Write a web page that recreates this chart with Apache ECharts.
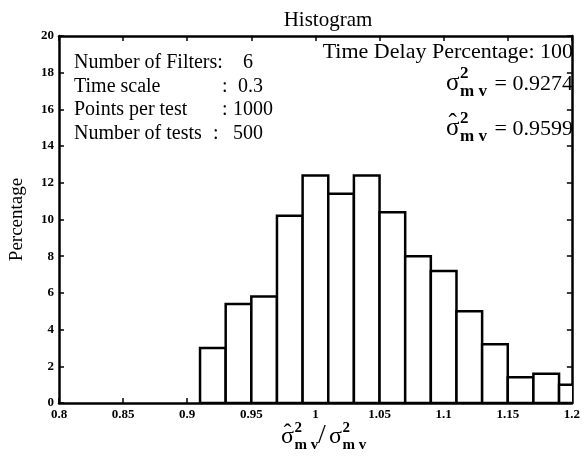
<!DOCTYPE html>
<html><head><meta charset="utf-8">
<script src="https://cdn.jsdelivr.net/npm/echarts@6/dist/echarts.min.js"></script>
<style>html,body{margin:0;padding:0;background:#fff}#c{width:583px;height:458px}</style>
</head><body><div id="c"></div>
<script>
// ---- data ----
const binLeft  = [0.91, 0.93, 0.95, 0.97, 0.99, 1.01, 1.03, 1.05, 1.07, 1.09, 1.11, 1.13, 1.15, 1.17, 1.19];
const binRight = [0.93, 0.95, 0.97, 0.99, 1.01, 1.03, 1.05, 1.07, 1.09, 1.11, 1.13, 1.15, 1.17, 1.19, 1.21];
const percentage = [3.0, 5.4, 5.8, 10.2, 12.4, 11.4, 12.4, 10.4, 8.0, 7.2, 5.0, 3.2, 1.4, 1.6, 1.0];
const xRange = [0.8, 1.2];
const xStep = 0.05;
const yRange = [0, 20];
const yStep = 2;
const infoLabels = ['Number of Filters:', 'Time scale', 'Points per test', 'Number of tests'];
const infoValues = ['6', '0.3', '1000', '500'];
const infoRight = 'Time Delay Percentage: 100';
const sigmaMv = '0.9274';
const sigmaHatMv = '0.9599';

const SERIF = '"Liberation Serif", "DejaVu Serif", serif';
const chart = echarts.init(document.getElementById('c'), null, {renderer: 'canvas'});

function sigmaParts(x, y, hat, fs, subScale) {
  const ss = subScale || 0.62;
  const els = [];
  els.push({type: 'text', x: x, y: y, style: {text: 'σ', font: fs + 'px ' + SERIF, fill: '#000', textAlign: 'left', textVerticalAlign: 'middle'}});
  if (hat) {
    els.push({type: 'text', x: x + fs * 0.27, y: y - fs * 0.14, style: {text: 'ˆ', font: fs + 'px ' + SERIF, fill: '#000', textAlign: 'center', textVerticalAlign: 'middle'}});
  }
  els.push({type: 'text', x: x + fs * 0.56, y: y - fs * 0.36, style: {text: '2', font: 'bold ' + Math.round(fs * ss) + 'px ' + SERIF, fill: '#000', textAlign: 'left', textVerticalAlign: 'middle'}});
  els.push({type: 'text', x: x + fs * 0.56, y: y + fs * 0.34, style: {text: 'm v', font: 'bold ' + Math.round(fs * ss) + 'px ' + SERIF, fill: '#000', textAlign: 'left', textVerticalAlign: 'middle'}});
  return els;
}

const graphics = [];
const fs = 20;
const colonX = [null, 222, 222, 213];
const valueX = [243, 238, 233, 233];
infoLabels.forEach((lab, i) => {
  const y = 63 + i * 23.5;
  graphics.push({type: 'text', x: 74, y: y, style: {text: lab, font: fs + 'px ' + SERIF, fill: '#000', textVerticalAlign: 'middle'}});
  if (colonX[i] !== null) graphics.push({type: 'text', x: colonX[i], y: y, style: {text: ':', font: fs + 'px ' + SERIF, fill: '#000', textVerticalAlign: 'middle'}});
  graphics.push({type: 'text', x: valueX[i], y: y, style: {text: infoValues[i], font: fs + 'px ' + SERIF, fill: '#000', textVerticalAlign: 'middle'}});
});
graphics.push({type: 'text', x: 573, y: 52, style: {text: infoRight, font: '22px ' + SERIF, fill: '#000', textAlign: 'right', textVerticalAlign: 'middle'}});
graphics.push(...sigmaParts(446, 83, false, 25, 0.68));
graphics.push({type: 'text', x: 573, y: 84, style: {text: '= ' + sigmaMv, font: '22px ' + SERIF, fill: '#000', textAlign: 'right', textVerticalAlign: 'middle'}});
graphics.push(...sigmaParts(446, 128, true, 25, 0.68));
graphics.push({type: 'text', x: 573, y: 129, style: {text: '= ' + sigmaHatMv, font: '22px ' + SERIF, fill: '#000', textAlign: 'right', textVerticalAlign: 'middle'}});
// x axis name
graphics.push(...sigmaParts(281, 437, true, 24));
graphics.push({type: 'text', x: 318, y: 436, style: {text: '/', font: '28px ' + SERIF, fill: '#000', textAlign: 'left', textVerticalAlign: 'middle'}});
graphics.push(...sigmaParts(329, 437, false, 24));

const axisCommon = {
  axisLine: {show: true, onZero: false, lineStyle: {color: '#000', width: 2.5}},
  axisTick: {show: true, inside: true, length: 5, lineStyle: {color: '#000', width: 1.5}},
  splitLine: {show: false}
};

chart.setOption({
  animation: false,
  backgroundColor: '#fff',
  title: {text: 'Histogram', left: 323, top: 5, textAlign: 'center', textStyle: {fontFamily: SERIF, fontWeight: 'normal', fontSize: 21, color: '#000'}},
  grid: {left: 59, right: 7, top: 36, bottom: 55, containLabel: false},
  xAxis: [
    Object.assign({type: 'value', min: xRange[0], max: xRange[1], interval: xStep, position: 'bottom',
      axisLabel: {show: true, margin: 5, fontFamily: SERIF, fontWeight: 'bold', fontSize: 13, color: '#000', formatter: v => String(+v.toFixed(2))}}, axisCommon),
    Object.assign({type: 'value', min: xRange[0], max: xRange[1], interval: xStep, position: 'top', axisLabel: {show: false}}, axisCommon)
  ],
  yAxis: [
    Object.assign({type: 'value', min: yRange[0], max: yRange[1], interval: yStep, position: 'left',
      name: 'Percentage', nameLocation: 'middle', nameGap: 32, nameRotate: 90,
      nameTextStyle: {fontFamily: SERIF, fontSize: 19, color: '#000'},
      axisLabel: {show: true, margin: 5, fontFamily: SERIF, fontWeight: 'bold', fontSize: 13, color: '#000'}}, axisCommon),
    Object.assign({type: 'value', min: yRange[0], max: yRange[1], interval: yStep, position: 'right', axisLabel: {show: false}}, axisCommon)
  ],
  series: [{
    type: 'custom',
    clip: true,
    data: binLeft.map((l, i) => [l, binRight[i], percentage[i]]),
    encode: {x: [0, 1], y: 2},
    renderItem: function (params, api) {
      const p0 = api.coord([api.value(0), api.value(2)]);
      const p1 = api.coord([api.value(1), 0]);
      return {type: 'rect', shape: {x: p0[0], y: p0[1], width: p1[0] - p0[0], height: p1[1] - p0[1]},
        style: {fill: '#fff', stroke: '#000', lineWidth: 2.5}};
    }
  }],
  graphic: graphics
});
</script></body></html>
